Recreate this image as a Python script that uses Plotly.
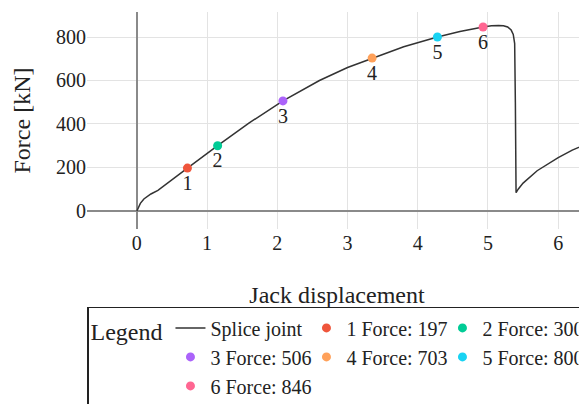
import plotly.graph_objects as go

# Splice joint curve (jack displacement vs force)
curve_x = [0, 0.02, 0.05, 0.1, 0.2, 0.3, 0.45, 0.72, 1.15, 1.6, 2.08, 2.6, 3.0, 3.35,
           3.8, 4.28, 4.6, 4.93, 5.05, 5.15, 5.22, 5.28, 5.33, 5.36, 5.38, 5.39, 5.40,
           5.43, 5.5, 5.7, 6.0, 6.2, 6.5]
curve_y = [0, 18, 35, 55, 78, 95, 130, 197, 300, 405, 506, 600, 660, 703,
           755, 800, 825, 846, 852, 853, 852, 846, 832, 812, 770, 500, 84,
           100, 128, 185, 245, 280, 320]

# Marked points
pt_labels = ["1", "2", "3", "4", "5", "6"]
pt_x = [0.72, 1.15, 2.08, 3.35, 4.28, 4.93]
pt_y = [197, 300, 506, 703, 800, 846]
pt_colors = ["#EF553B", "#00CC96", "#AB63FA", "#FFA15A", "#19D3F3", "#FF6692"]

FONT = "Liberation Serif"

fig = go.Figure()
fig.add_trace(go.Scatter(x=curve_x, y=curve_y, mode="lines", name="Splice joint",
                         line=dict(color="#333333", width=1.5)))
for lab, x, y, c in zip(pt_labels, pt_x, pt_y, pt_colors):
    fig.add_trace(go.Scatter(x=[x], y=[y], mode="markers+text", text=[lab],
                             textposition="bottom center",
                             textfont=dict(size=20, color="#222", family=FONT),
                             marker=dict(color=c, size=9),
                             name=f"{lab} Force: {y}"))

# the page body adds an 8px offset, so margins compensate for it
fig.update_layout(
    width=587, height=404,
    margin=dict(l=79, r=8, t=4, b=183, autoexpand=False),
    plot_bgcolor="white", paper_bgcolor="white",
    font=dict(family=FONT, size=20, color="#222"),
    xaxis=dict(range=[-0.71, 6.41], dtick=1, showgrid=True, gridcolor="#e3e3e3",
               zeroline=True, zerolinecolor="#8a8a8a", zerolinewidth=2,
               showline=False, tickfont=dict(size=20), automargin=False,
               title=dict(text="Jack displacement", font=dict(size=24), standoff=33)),
    yaxis=dict(range=[-83, 915], dtick=200, showgrid=True, gridcolor="#e3e3e3",
               zeroline=True, zerolinecolor="#8a8a8a", zerolinewidth=2,
               showline=False, tickfont=dict(size=20), automargin=False,
               title=dict(text="Force [kN]", font=dict(size=24), standoff=18)),
    legend=dict(orientation="h", x=0, xanchor="left", y=-0.359, yanchor="top",
                bordercolor="#222", borderwidth=1.5,
                entrywidth=91, entrywidthmode="pixels",
                title=dict(text="Legend", side="left", font=dict(size=24)),
                font=dict(size=20)),
    showlegend=True,
)

fig.write_html("out.html")
